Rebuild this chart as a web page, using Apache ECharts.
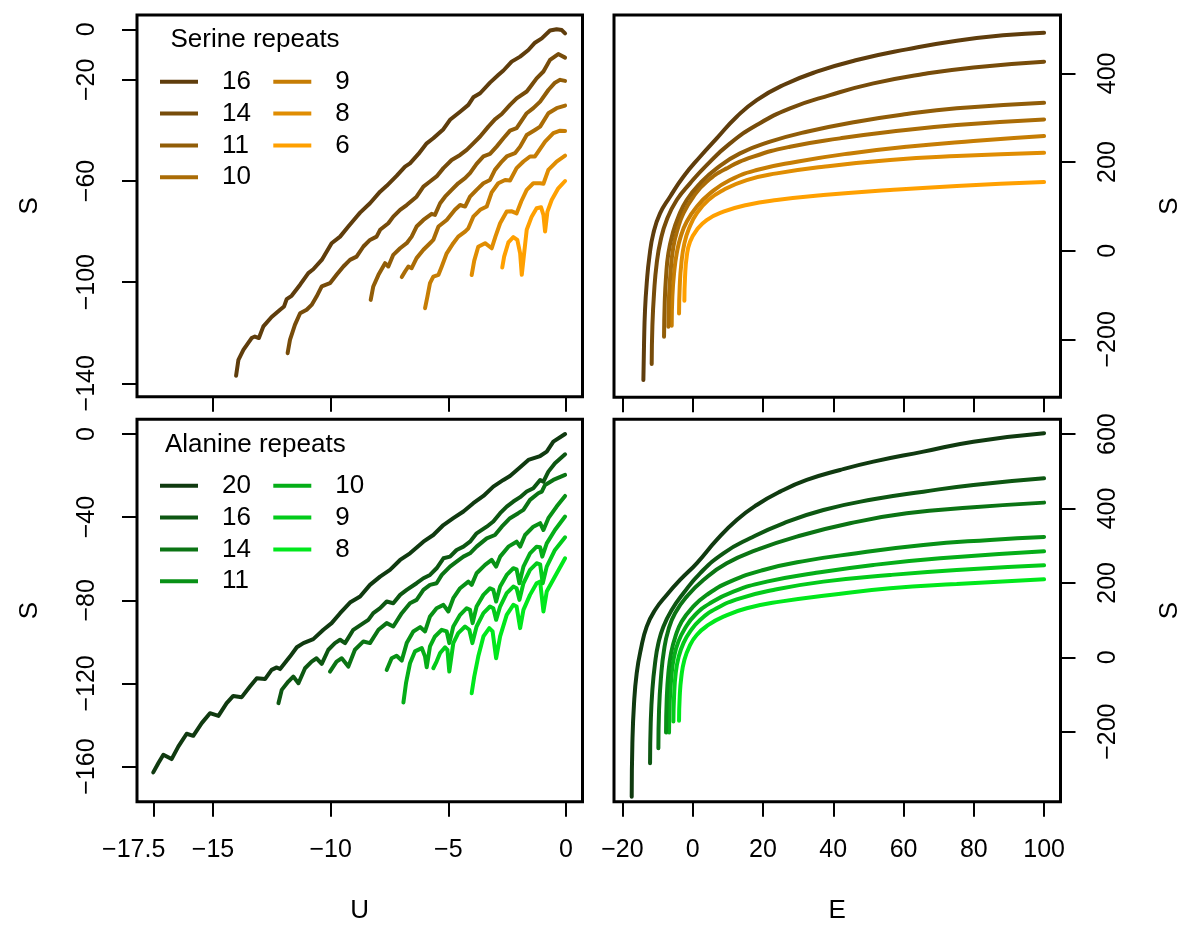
<!DOCTYPE html>
<html><head><meta charset="utf-8">
<script src="https://cdn.jsdelivr.net/npm/echarts@6/dist/echarts.min.js"></script>
<style>html,body{margin:0;padding:0;background:#fff}#c{width:1186px;height:925px}</style>
</head><body><div id="c"></div>
<script>
const FONT = 'Liberation Sans, Arial, Helvetica, sans-serif';

// ---------- tick values ----------
const ticksU_top = [-15, -10, -5, 0];
const ticksU_bot = [-17.5, -15, -10, -5, 0];
const ticksS_serU = [0, -20, -60, -100, -140];
const ticksS_alaU = [0, -40, -80, -120, -160];
const ticksE = [-20, 0, 20, 40, 60, 80, 100];
const ticksS_serE = [-200, 0, 200, 400];
const ticksS_alaE = [-200, 0, 200, 400, 600];

// ---------- Serine repeats ----------
const serineN = ['16', '14', '11', '10', '9', '8', '6'];
const serineColors = ['#5f3d0c', '#774c0a', '#915d08', '#aa6c06', '#c67d04', '#e08d02', '#ffa000'];

const serU16 = [[-14.02,-137.0],[-13.92,-130.7],[-13.71,-126.8],[-13.36,-122.1],[-13.22,-121.5],[-13.05,-122.1],[-12.86,-117.5],[-12.51,-113.8],[-12.15,-110.9],[-11.98,-109.6],[-11.87,-106.7],[-11.66,-105.4],[-11.30,-101.0],[-10.95,-96.4],[-10.74,-94.9],[-10.38,-91.2],[-9.96,-84.6],[-9.60,-82.0],[-9.25,-78.0],[-8.90,-74.1],[-8.75,-72.5],[-8.33,-68.8],[-7.90,-64.2],[-7.62,-61.9],[-7.20,-58.0],[-6.84,-54.3],[-6.63,-53.0],[-6.27,-49.3],[-5.92,-45.1],[-5.64,-43.1],[-5.21,-39.5],[-4.93,-35.8],[-4.50,-32.6],[-4.15,-29.9],[-3.94,-26.9],[-3.65,-25.3],[-3.23,-21.1],[-2.88,-18.1],[-2.66,-16.3],[-2.31,-12.8],[-1.95,-10.8],[-1.60,-8.2],[-1.32,-5.3],[-1.03,-3.6],[-0.68,-0.5],[-0.40,0.0],[-0.18,-0.3],[-0.04,-1.6]];
const serU14 = [[-11.83,-128.1],[-11.73,-122.8],[-11.52,-116.9],[-11.30,-112.3],[-11.02,-110.9],[-10.81,-109.0],[-10.60,-105.7],[-10.38,-101.7],[-10.03,-100.4],[-9.75,-97.1],[-9.46,-93.8],[-9.18,-91.2],[-8.90,-89.9],[-8.61,-85.9],[-8.33,-83.3],[-8.05,-82.0],[-7.90,-79.3],[-7.55,-76.7],[-7.34,-74.1],[-7.05,-71.4],[-6.77,-69.5],[-6.35,-66.2],[-6.06,-62.2],[-5.78,-60.2],[-5.50,-58.2],[-5.21,-54.9],[-4.86,-51.7],[-4.50,-49.7],[-4.22,-47.7],[-3.94,-45.1],[-3.65,-42.4],[-3.30,-38.5],[-3.02,-35.6],[-2.73,-33.5],[-2.38,-29.9],[-2.10,-27.3],[-1.67,-24.6],[-1.53,-22.9],[-1.25,-19.4],[-0.96,-16.7],[-0.68,-12.1],[-0.33,-9.8],[-0.04,-11.2]];
const serU11 = [[-8.30,-107.0],[-8.19,-101.7],[-7.97,-97.1],[-7.69,-92.5],[-7.55,-93.8],[-7.34,-89.2],[-7.05,-86.6],[-6.77,-84.6],[-6.56,-82.0],[-6.35,-78.0],[-6.06,-75.4],[-5.71,-73.0],[-5.57,-73.4],[-5.35,-68.8],[-5.14,-66.2],[-4.86,-63.5],[-4.58,-60.9],[-4.29,-58.9],[-4.08,-56.9],[-3.80,-53.2],[-3.51,-50.3],[-3.23,-49.3],[-2.95,-46.4],[-2.66,-43.1],[-2.38,-40.1],[-2.10,-39.1],[-1.67,-33.2],[-1.39,-31.2],[-1.10,-28.6],[-0.75,-24.0],[-0.47,-21.1],[-0.25,-20.0],[-0.04,-20.4]];
const serU10 = [[-6.98,-98.0],[-6.84,-95.8],[-6.70,-93.8],[-6.56,-94.5],[-6.35,-90.5],[-6.06,-87.2],[-5.78,-84.6],[-5.64,-83.3],[-5.42,-78.0],[-5.07,-75.4],[-4.72,-71.4],[-4.50,-69.5],[-4.29,-70.1],[-4.08,-66.2],[-3.80,-63.5],[-3.51,-60.9],[-3.23,-59.6],[-3.02,-55.6],[-2.73,-52.3],[-2.52,-50.3],[-2.17,-49.0],[-1.95,-46.4],[-1.67,-41.8],[-1.32,-39.8],[-1.10,-38.5],[-0.75,-33.2],[-0.40,-31.2],[-0.04,-30.2]];
const serU9 = [[-5.99,-110.3],[-5.89,-105.7],[-5.78,-100.4],[-5.64,-97.8],[-5.42,-97.1],[-5.28,-93.8],[-5.07,-88.6],[-4.79,-84.6],[-4.58,-82.0],[-4.29,-80.0],[-4.15,-78.7],[-3.94,-74.1],[-3.65,-71.4],[-3.37,-70.1],[-3.16,-64.5],[-2.88,-60.9],[-2.59,-59.6],[-2.38,-59.8],[-2.10,-54.9],[-1.81,-52.3],[-1.53,-50.3],[-1.32,-50.3],[-1.18,-48.4],[-0.89,-44.4],[-0.54,-41.1],[-0.25,-40.1],[-0.04,-40.2]];
const serU8 = [[-4.01,-97.2],[-3.90,-91.5],[-3.73,-86.0],[-3.44,-84.6],[-3.16,-86.6],[-3.00,-82.0],[-2.80,-76.7],[-2.52,-72.1],[-2.30,-72.0],[-2.10,-72.8],[-1.90,-68.0],[-1.67,-63.5],[-1.39,-60.9],[-1.10,-60.9],[-0.96,-61.1],[-0.75,-55.6],[-0.40,-52.3],[-0.04,-50.0]];
const serU6 = [[-2.71,-94.2],[-2.63,-89.9],[-2.45,-84.3],[-2.24,-82.2],[-2.07,-83.3],[-1.95,-88.6],[-1.88,-97.1],[-1.78,-88.6],[-1.67,-79.3],[-1.46,-74.1],[-1.25,-70.8],[-1.06,-70.4],[-0.96,-73.4],[-0.89,-80.0],[-0.79,-72.1],[-0.61,-67.5],[-0.33,-62.9],[-0.04,-60.0]];

const serE16 = [[-14.04,-291.7],[-13.85,-209.0],[-13.57,-133.8],[-13.09,-73.7],[-12.33,-13.5],[-11.20,39.1],[-9.30,84.2],[-6.45,121.8],[-2.66,166.9],[2.09,212.0],[6.83,253.4],[12.52,302.3],[18.22,339.8],[25.81,373.7],[35.29,403.8],[46.68,430.1],[60.91,454.1],[75.14,473.7],[89.37,486.5],[100,491.7]];
const serE14 = [[-11.67,-255.6],[-11.48,-171.4],[-11.01,-96.2],[-10.25,-28.6],[-9.11,24.1],[-7.40,69.2],[-4.55,114.3],[-0.76,151.9],[3.98,193.2],[10.63,242.1],[18.22,283.5],[27.70,321.1],[39.09,351.1],[51.42,377.4],[65.65,398.5],[79.89,413.5],[100,426.3]];
const serE11 = [[-8.16,-194.0],[-7.97,-118.8],[-7.59,-58.6],[-6.93,-6.0],[-5.69,39.1],[-4.08,76.7],[-1.71,114.3],[2.09,151.9],[6.83,185.7],[13.47,219.5],[22.01,245.9],[32.45,268.4],[46.68,291.0],[60.91,308.3],[75.14,321.1],[100,333.8]];
const serE10 = [[-6.93,-171.4],[-6.74,-103.8],[-6.26,-43.6],[-5.50,9.0],[-4.36,46.6],[-2.66,84.2],[0.19,121.8],[3.98,155.6],[9.68,185.7],[17.27,212.0],[27.70,234.6],[41.94,253.4],[56.17,268.4],[75.14,283.5],[100,296.2]];
const serE9 = [[-5.98,-169.2],[-5.79,-103.8],[-5.31,-51.1],[-4.55,-6.0],[-3.42,31.6],[-1.71,65.4],[1.14,99.2],[4.93,129.3],[10.63,159.4],[18.22,182.0],[29.60,200.8],[44.78,219.5],[60.91,234.6],[79.89,247.4],[100,258.6]];
const serE8 = [[-3.89,-141.4],[-3.70,-81.2],[-3.23,-28.6],[-2.37,16.5],[-1.04,50.4],[1.14,84.2],[4.46,114.3],[8.73,136.8],[15.37,159.4],[23.91,174.4],[37.19,189.5],[56.17,204.5],[75.14,213.5],[100,221.1]];
const serE6 = [[-2.37,-112.8],[-2.18,-58.6],[-1.71,-13.5],[-0.76,20.3],[1.14,46.6],[3.98,69.2],[8.73,88.0],[15.37,103.0],[23.91,114.3],[37.19,125.6],[56.17,136.8],[75.14,145.9],[100,154.9]];

// ---------- Alanine repeats ----------
const alanineN = ['20', '16', '14', '11', '10', '9', '8'];
const alanineColors = ['#103a10', '#0d5712', '#0b7414', '#089116', '#05ae18', '#03cb1a', '#00e81c'];

const alaU20 = [[-17.54,-162.8],[-17.32,-158.3],[-17.11,-154.3],[-16.76,-156.4],[-16.47,-150.3],[-16.12,-144.2],[-15.84,-145.2],[-15.48,-139.1],[-15.13,-134.3],[-14.77,-135.6],[-14.42,-129.5],[-14.14,-126.0],[-13.78,-126.6],[-13.43,-121.5],[-13.14,-117.5],[-12.79,-117.9],[-12.51,-113.5],[-12.29,-112.3],[-12.15,-113.1],[-11.73,-107.1],[-11.44,-102.6],[-11.16,-100.6],[-10.74,-98.7],[-10.31,-94.2],[-9.96,-91.0],[-9.60,-86.2],[-9.18,-81.1],[-8.75,-78.2],[-8.33,-72.6],[-7.90,-68.6],[-7.48,-65.4],[-7.05,-60.6],[-6.63,-57.4],[-6.06,-51.8],[-5.64,-48.6],[-5.21,-43.8],[-4.79,-40.5],[-4.36,-37.3],[-3.94,-33.3],[-3.51,-29.8],[-3.09,-25.3],[-2.66,-22.1],[-2.38,-20.2],[-1.95,-16.0],[-1.60,-12.5],[-1.10,-10.6],[-0.82,-8.5],[-0.54,-3.7],[-0.04,0.0]];
const alaU16 = [[-12.22,-129.5],[-12.08,-123.1],[-11.80,-119.1],[-11.59,-116.7],[-11.37,-119.9],[-11.09,-112.7],[-10.81,-109.5],[-10.60,-107.9],[-10.38,-110.6],[-10.10,-103.8],[-9.82,-100.6],[-9.60,-99.0],[-9.39,-100.6],[-9.04,-94.2],[-8.61,-91.0],[-8.40,-89.4],[-8.19,-86.2],[-7.90,-83.8],[-7.62,-80.6],[-7.34,-81.4],[-7.05,-77.4],[-6.77,-75.0],[-6.35,-71.8],[-6.06,-69.4],[-5.78,-67.8],[-5.50,-64.6],[-5.21,-59.8],[-4.93,-59.0],[-4.65,-55.8],[-4.36,-54.2],[-4.08,-51.8],[-3.80,-47.8],[-3.37,-44.6],[-3.09,-42.1],[-2.80,-38.1],[-2.52,-34.9],[-2.24,-32.5],[-1.95,-30.4],[-1.67,-27.7],[-1.39,-26.1],[-1.10,-22.1],[-0.96,-22.9],[-0.75,-18.1],[-0.47,-14.1],[-0.04,-9.8]];
const alaU14 = [[-10.03,-114.3],[-9.75,-109.5],[-9.53,-107.9],[-9.25,-111.9],[-8.97,-103.8],[-8.61,-99.8],[-8.33,-100.6],[-7.97,-94.2],[-7.62,-91.0],[-7.34,-92.6],[-6.98,-86.2],[-6.63,-81.4],[-6.35,-79.8],[-6.06,-75.0],[-5.78,-72.6],[-5.50,-71.8],[-5.28,-67.8],[-4.93,-63.8],[-4.65,-61.4],[-4.36,-59.0],[-4.08,-57.4],[-3.80,-54.2],[-3.37,-50.2],[-3.02,-48.6],[-2.73,-44.6],[-2.38,-40.5],[-2.03,-38.1],[-1.81,-36.5],[-1.53,-31.7],[-1.18,-28.5],[-1.03,-27.7],[-0.89,-24.5],[-0.54,-22.1],[-0.04,-19.7]];
const alaU11 = [[-7.62,-113.5],[-7.41,-107.9],[-7.20,-106.7],[-6.98,-109.0],[-6.77,-100.6],[-6.49,-95.0],[-6.20,-92.9],[-5.99,-95.0],[-5.78,-87.8],[-5.50,-83.8],[-5.21,-82.2],[-5.00,-85.4],[-4.79,-79.0],[-4.50,-74.2],[-4.15,-71.0],[-4.01,-72.6],[-3.80,-67.0],[-3.44,-63.0],[-3.16,-60.6],[-2.97,-63.8],[-2.80,-59.0],[-2.45,-54.2],[-2.10,-51.8],[-1.95,-54.2],[-1.74,-48.6],[-1.39,-44.6],[-1.10,-42.9],[-0.96,-46.2],[-0.75,-40.5],[-0.40,-34.9],[-0.04,-29.8]];
const alaU10 = [[-6.91,-129.2],[-6.80,-119.9],[-6.63,-110.3],[-6.42,-104.6],[-6.13,-103.0],[-5.99,-107.1],[-5.92,-112.2],[-5.78,-102.2],[-5.57,-97.4],[-5.28,-94.2],[-5.07,-95.0],[-4.96,-100.6],[-4.79,-92.6],[-4.50,-87.0],[-4.22,-83.8],[-4.08,-84.6],[-3.97,-91.0],[-3.80,-83.0],[-3.51,-77.4],[-3.23,-74.2],[-3.09,-75.0],[-2.97,-80.6],[-2.80,-73.4],[-2.52,-67.8],[-2.24,-64.6],[-2.10,-65.1],[-1.98,-71.8],[-1.81,-63.8],[-1.53,-57.4],[-1.25,-54.2],[-1.10,-54.5],[-1.01,-59.0],[-0.82,-52.6],[-0.47,-46.2],[-0.04,-39.7]];
const alaU9 = [[-5.64,-112.7],[-5.50,-109.5],[-5.35,-105.4],[-5.14,-102.6],[-5.04,-103.8],[-4.96,-114.3],[-4.79,-100.6],[-4.58,-95.8],[-4.29,-92.6],[-4.11,-94.2],[-3.98,-100.6],[-3.80,-92.6],[-3.51,-86.2],[-3.23,-83.0],[-3.09,-83.8],[-2.97,-89.4],[-2.80,-83.0],[-2.52,-76.6],[-2.24,-73.4],[-2.10,-74.2],[-1.98,-79.8],[-1.81,-71.8],[-1.53,-65.4],[-1.25,-62.2],[-1.10,-62.7],[-0.99,-71.8],[-0.82,-63.8],[-0.47,-55.8],[-0.04,-49.7]];
const alaU8 = [[-4.01,-124.7],[-3.90,-116.7],[-3.73,-107.1],[-3.51,-97.4],[-3.26,-93.4],[-3.12,-95.0],[-2.97,-107.9],[-2.80,-97.4],[-2.52,-87.0],[-2.24,-82.2],[-2.10,-83.0],[-1.95,-93.4],[-1.81,-84.6],[-1.53,-77.4],[-1.25,-71.8],[-1.10,-71.0],[-0.96,-85.4],[-0.82,-75.8],[-0.47,-68.6],[-0.04,-59.8]];

const alaE20 = [[-17.36,-374.6],[-17.17,-231.2],[-16.70,-123.7],[-15.94,-43.0],[-14.80,19.7],[-13.09,82.4],[-10.72,127.2],[-7.40,167.6],[-3.61,207.9],[1.14,252.7],[6.83,315.4],[12.52,369.2],[18.22,409.5],[24.86,445.3],[32.45,476.7],[41.94,503.6],[51.42,526.0],[65.65,552.9],[79.89,579.7],[100,602.2]];
const alaE16 = [[-12.14,-285.0],[-11.95,-177.4],[-11.48,-87.8],[-10.72,-16.1],[-9.77,37.6],[-8.35,82.4],[-5.98,127.2],[-2.66,172.0],[2.09,225.8],[8.73,279.6],[16.32,319.9],[25.81,360.2],[37.19,396.1],[51.42,424.7],[65.65,445.3],[79.89,463.3],[100,481.2]];
const alaE14 = [[-9.77,-244.6],[-9.58,-141.6],[-9.01,-52.0],[-8.16,19.7],[-6.93,73.5],[-5.03,118.3],[-1.71,163.1],[3.04,207.9],[9.68,252.7],[18.22,288.5],[29.60,324.4],[44.78,360.2],[60.91,387.1],[79.89,403.2],[100,415.8]];
const alaE11 = [[-7.59,-202.5],[-7.40,-114.7],[-6.93,-43.0],[-6.17,10.8],[-4.93,55.6],[-3.13,95.9],[-0.28,131.7],[3.98,167.6],[10.63,203.4],[20.11,234.8],[32.45,259.9],[46.68,279.6],[65.65,302.0],[84.63,315.4],[100,323.5]];
const alaE10 = [[-6.74,-202.5],[-6.55,-123.7],[-6.07,-52.0],[-5.31,1.8],[-4.08,42.1],[-2.18,78.0],[0.66,113.8],[4.93,145.2],[11.57,176.5],[21.06,203.4],[34.35,225.8],[51.42,248.2],[70.40,266.1],[100,285.0]];
const alaE9 = [[-5.50,-172.9],[-5.31,-105.7],[-4.84,-43.0],[-3.98,1.8],[-2.66,37.6],[-0.76,69.0],[2.09,100.4],[6.83,131.7],[13.47,158.6],[22.96,181.0],[37.19,203.4],[56.17,221.3],[75.14,234.8],[100,247.3]];
const alaE8 = [[-3.89,-170.3],[-3.70,-105.7],[-3.23,-52.0],[-2.37,-7.2],[-0.95,28.7],[1.14,60.0],[4.46,86.9],[8.73,109.3],[15.37,131.7],[24.86,149.6],[39.09,167.6],[56.17,185.5],[75.14,197.1],[100,209.7]];

const serineU = [serU16, serU14, serU11, serU10, serU9, serU8, serU6];
const serineE = [serE16, serE14, serE11, serE10, serE9, serE8, serE6];
const alanineU = [alaU20, alaU16, alaU14, alaU11, alaU10, alaU9, alaU8];
const alanineE = [alaE20, alaE16, alaE14, alaE11, alaE10, alaE9, alaE8];

// ---------- build chart ----------
const fmt = v => (v < 0 ? '\u2212' + String(Math.abs(v)) : String(v));
const fmtBottomU = v => (v === -17.5 ? '{sh|' + fmt(v) + '}' : fmt(v));
const TICK_FS = 25, LEG_FS = 26, NAME_FS = 26;
const LW = 4;

const grids = [
  {left: 137, top: 15, width: 445.5, height: 381.7},
  {left: 614, top: 15, width: 446.5, height: 382.3},
  {left: 137, top: 419.3, width: 445.5, height: 382.4},
  {left: 614, top: 419.3, width: 446.5, height: 382.4}
].map(g => Object.assign(g, {show: true, borderColor: '#000', borderWidth: 3, backgroundColor: 'rgba(0,0,0,0)', containLabel: false}));

function xAx(gi, min, max, ticks, labels, name, formatter) {
  return {
    type: 'value', gridIndex: gi, min: min, max: max, position: 'bottom',
    axisLine: {show: false, onZero: false}, splitLine: {show: false},
    axisTick: {show: true, customValues: ticks, length: 15, lineStyle: {color: '#000', width: 2}},
    axisLabel: {show: labels, customValues: ticks, margin: 36, fontSize: TICK_FS, color: '#000', fontFamily: FONT,
      formatter: formatter || fmt,
      rich: {sh: {fontSize: TICK_FS, color: '#000', fontFamily: FONT, padding: [0, 41, 0, 0]}}},
    name: name, nameLocation: 'middle', nameGap: 96,
    nameTextStyle: {fontSize: NAME_FS, color: '#000', fontFamily: FONT}
  };
}
function yAx(gi, min, max, ticks, pos, name) {
  return {
    type: 'value', gridIndex: gi, min: min, max: max, position: pos,
    axisLine: {show: false, onZero: false}, splitLine: {show: false},
    axisTick: {show: true, customValues: ticks, length: 15, lineStyle: {color: '#000', width: 2}},
    axisLabel: {show: true, customValues: ticks, rotate: 90, margin: pos === 'left' ? 37 : 35, fontSize: TICK_FS, color: '#000', fontFamily: FONT, formatter: fmt},
    name: name, nameLocation: 'middle', nameRotate: 90, nameGap: pos === 'left' ? 94 : 96,
    nameTextStyle: {fontSize: NAME_FS, color: '#000', fontFamily: FONT}
  };
}

const xAxes = [
  xAx(0, -18.23, 0.70, ticksU_top, false, ''),
  xAx(1, -22.4, 104.67, ticksE, false, ''),
  xAx(2, -18.23, 0.70, ticksU_bot, true, 'U', fmtBottomU),
  xAx(3, -22.4, 104.67, ticksE, true, 'E')
];
const yAxes = [
  yAx(0, -145.3, 5.65, ticksS_serU, 'left', 'S'),
  yAx(1, -330.7, 531.7, ticksS_serE, 'right', 'S'),
  yAx(2, -176.9, 7.07, ticksS_alaU, 'left', 'S'),
  yAx(3, -388.2, 639.8, ticksS_alaE, 'right', 'S')
];

const series = [];
function addSeries(prefix, names, colors, dataU, dataE, gU, gE) {
  names.forEach((n, i) => {
    const nm = prefix + ' ' + n;
    series.push({type: 'line', name: nm, xAxisIndex: gU, yAxisIndex: gU, data: dataU[i],
      symbol: 'none', showSymbol: false, smooth: false, animation: false,
      lineStyle: {width: LW, color: colors[i], join: 'round', cap: 'round'}, itemStyle: {color: colors[i]}, z: 10 - i});
    series.push({type: 'line', name: nm, xAxisIndex: gE, yAxisIndex: gE, data: dataE[i],
      symbol: 'none', showSymbol: false, smooth: 0.5, animation: false,
      lineStyle: {width: LW, color: colors[i], cap: 'round'}, itemStyle: {color: colors[i]}, z: 10 - i});
  });
}
addSeries('Ser', serineN, serineColors, serineU, serineE, 0, 1);
addSeries('Ala', alanineN, alanineColors, alanineU, alanineE, 2, 3);

const ROW = 31.8;
function legend(left, top, names) {
  return {
    orient: 'vertical', left: left, top: top, padding: 0, itemGap: 0,
    icon: 'rect', itemWidth: 38, itemHeight: 4, selectedMode: false,
    data: names, formatter: nm => nm.split(' ')[1],
    textStyle: {fontSize: LEG_FS, color: '#000', fontFamily: FONT, lineHeight: ROW, padding: [0, 0, 0, 19]}
  };
}
const legends = [
  legend(160, 81.8 - ROW / 2, serineN.slice(0, 4).map(n => 'Ser ' + n)),
  legend(273.3, 81.8 - ROW / 2, serineN.slice(4).map(n => 'Ser ' + n)),
  legend(160, 485.8 - ROW / 2, alanineN.slice(0, 4).map(n => 'Ala ' + n)),
  legend(273.3, 485.8 - ROW / 2, alanineN.slice(4).map(n => 'Ala ' + n))
];

const chart = echarts.init(document.getElementById('c'), null, {renderer: 'canvas'});
chart.setOption({
  animation: false,
  backgroundColor: '#fff',
  grid: grids,
  xAxis: xAxes,
  yAxis: yAxes,
  legend: legends,
  series: series,
  graphic: [
    {type: 'text', x: 170.5, y: 40, z: 100, style: {text: 'Serine repeats', fontSize: LEG_FS, fontFamily: FONT, fill: '#000', align: 'left', verticalAlign: 'middle'}},
    {type: 'text', x: 165, y: 445, z: 100, style: {text: 'Alanine repeats', fontSize: LEG_FS, fontFamily: FONT, fill: '#000', align: 'left', verticalAlign: 'middle'}}
  ]
});
</script></body></html>
